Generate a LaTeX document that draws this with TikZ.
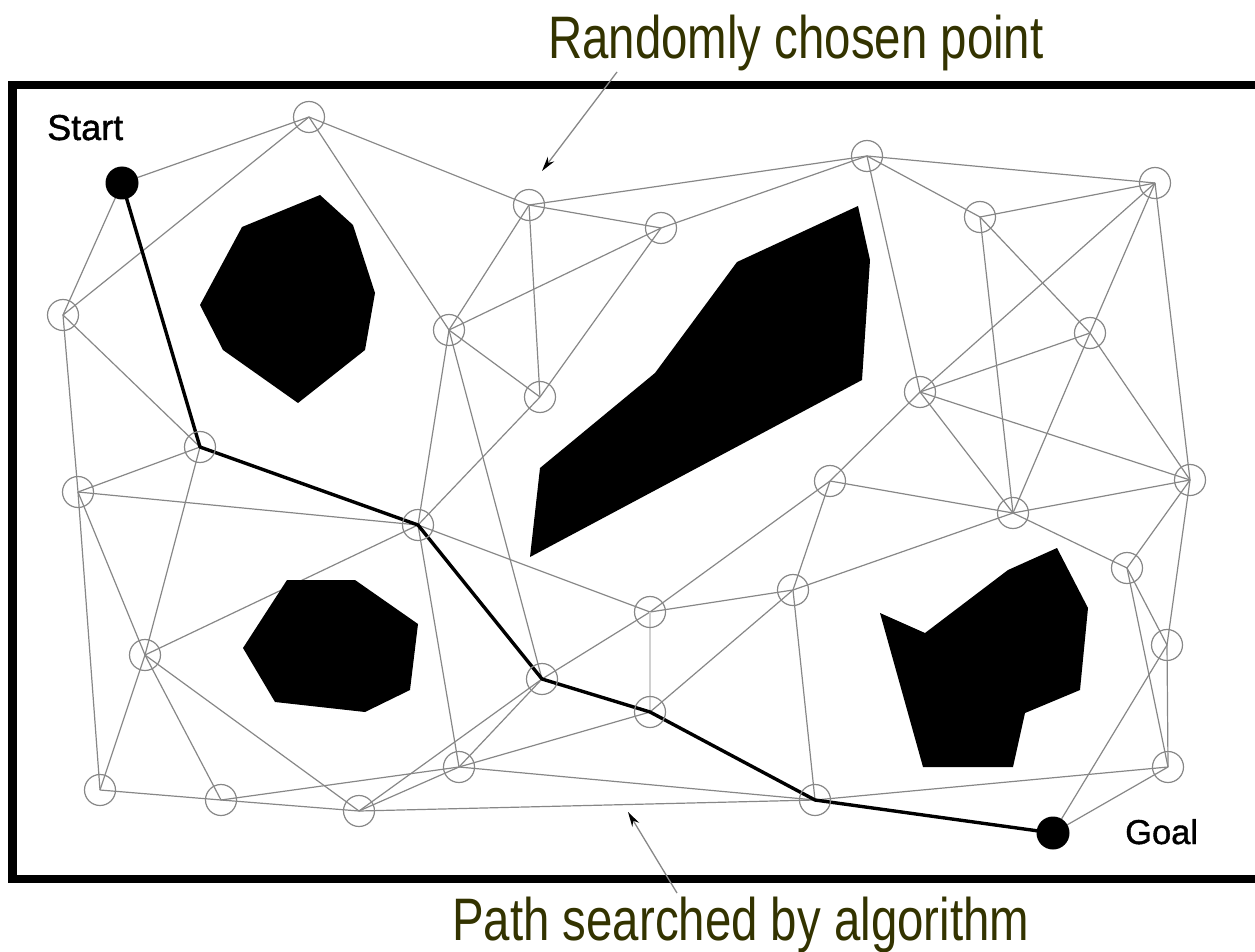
\documentclass[tikz,border=0pt]{standalone}
\usepackage{fontspec}
\setmainfont{Liberation Sans}
\newfontfamily\titlefont[FakeStretch=0.79]{Liberation Sans}
\newfontfamily\tagfont[FakeBold=1.2]{Liberation Sans}
\usetikzlibrary{arrows.meta}

\pgfdeclarelayer{edges}
\pgfsetlayers{edges,main}

\definecolor{edgegray}{RGB}{135,135,135}
\definecolor{lightedge}{RGB}{208,208,208}
\definecolor{titleolive}{RGB}{51,51,0}

\begin{document}
\begin{tikzpicture}[x=1pt,y=-1pt,
  sample/.style={circle,draw=edgegray,line width=1.2pt,minimum size=31pt,inner sep=0pt},
  terminal/.style={circle,fill=black,minimum size=33pt,inner sep=0pt},
  link/.style={draw=edgegray,line width=1.2pt},
  faint/.style={draw=lightedge,line width=2.8pt},
  route/.style={draw=black,line width=3.4pt,line join=round,line cap=round},
  obstacle/.style={fill=black},
  caption/.style={text=titleolive,font=\titlefont\fontsize{60}{66}\selectfont,inner sep=0pt},
  tag/.style={text=black,inner sep=0pt},
  pointer/.style={draw=edgegray,line width=1.3pt,-{Stealth[length=15pt,width=8pt,black]}}
]
\useasboundingbox (0,0) rectangle (1255,952);
\clip (0,0) rectangle (1255,952);

% outer frame (its right side runs past the page edge)
\draw[line width=8.5pt] (12.5,85) rectangle (1280,879);

% obstacles
\fill[obstacle] (242,227) -- (320,195) -- (353,225) -- (375,293) -- (365,350)
  -- (298,403) -- (223,350) -- (200,305) -- cycle;
\fill[obstacle] (737,262) -- (858,206) -- (870,260) -- (862,380) -- (530,557)
  -- (540,468) -- (655,373) -- cycle;
\fill[obstacle] (287,580) -- (355,580) -- (418,624) -- (410,690) -- (365,712)
  -- (275,702) -- (243,648) -- cycle;
\fill[obstacle] (880,613) -- (925,633) -- (1008,570) -- (1057,548) -- (1088,608)
  -- (1080,690) -- (1025,713) -- (1013,767) -- (923,767) -- cycle;

% roadmap samples
\node[terminal] (start) at (122,183) {};
\node[terminal] (goal)  at (1053,833) {};
\node[sample] (na)  at (309,117) {};
\node[sample] (nb)  at (63,315) {};
\node[sample] (nc)  at (529,205) {};
\node[sample] (nd)  at (661,228) {};
\node[sample] (ne)  at (449,330) {};
\node[sample] (nf)  at (540,397) {};
\node[sample] (ng)  at (867,156) {};
\node[sample] (nh)  at (1155,183) {};
\node[sample] (ni)  at (980,217) {};
\node[sample] (nj)  at (1090,333) {};
\node[sample] (nk)  at (920,392) {};
\node[sample] (nl)  at (1190,480) {};
\node[sample] (nm)  at (1013,513) {};
\node[sample] (nn)  at (830,481) {};
\node[sample] (no)  at (1127,568) {};
\node[sample] (np)  at (1167,645) {};
\node[sample] (nq)  at (1168,767) {};
\node[sample] (nr)  at (200,447) {};
\node[sample] (nt)  at (78,492) {};
\node[sample] (nu)  at (418,525) {};
\node[sample] (nv)  at (145,655) {};
\node[sample] (nw)  at (650,612) {};
\node[sample] (nx)  at (793,590) {};
\node[sample] (ny)  at (542,679) {};
\node[sample] (nz)  at (650,712) {};
\node[sample] (naa) at (459,767) {};
\node[sample] (nab) at (815,800) {};
\node[sample] (nac) at (100,790) {};
\node[sample] (nad) at (221,800) {};
\node[sample] (nae) at (359,811) {};

% roadmap edges and the searched path, kept underneath the samples
\begin{pgfonlayer}{edges}
\foreach \p/\q in {start/na, start/nb, na/nb, na/nc, na/ne, nb/nr, nb/nt,
    nr/nt, nr/nv, nt/nu, nt/nv, nt/nac, nv/nu, nv/nac, nv/nad, nv/nae,
    nac/nad, nad/nae, nad/naa, nae/ny, nae/naa, nae/nab,
    nc/nd, nc/ng, nc/ne, nc/nf, nd/ng, nd/ne, nd/nf, ne/nf, ne/nu, ne/ny, nf/nu,
    ng/nh, ng/ni, ng/nk, nh/ni, nh/nk, nh/nj, nh/nl, ni/nj, ni/nm,
    nj/nk, nj/nm, nj/nl, nk/nn, nk/nm, nk/nl, nm/nn, nm/nl, nm/nx, nm/no,
    nl/no, nl/np, no/np, no/nq, np/nq, np/goal, nq/goal, nab/nq,
    nn/nw, nn/nx, nx/nw, nx/nz, nx/nab, nu/nw, nw/ny, ny/naa, nu/naa,
    naa/nz, naa/nab}
  \draw[link] (\p.center) -- (\q.center);
\draw[faint] (nw.center) -- (nz.center);
\draw[route] (start.center) -- (nr.center) -- (nu.center) -- (ny.center)
  -- (nz.center) -- (nab.center) -- (goal.center);
\end{pgfonlayer}

% labels
\node[tag,anchor=base west,font=\tagfont\fontsize{36}{43}\selectfont] (startlbl) at (47,140) {Start};
\node[tag,anchor=base west,font=\tagfont\fontsize{34.5}{41}\selectfont] (goallbl) at (1125,844) {Goal};

\node[caption,anchor=base west] (randcap) at (548,59) {Randomly chosen point};
\node[caption,anchor=base west] (pathcap) at (452,940) {Path searched by algorithm};

\coordinate (randtail) at (617,72);
\coordinate (randtip)  at (542,171);
\coordinate (pathtail) at (677,893);
\coordinate (pathtip)  at (628,812);
\draw[pointer] (randtail) -- (randtip);
\draw[pointer] (pathtail) -- (pathtip);
\end{tikzpicture}
\end{document}
